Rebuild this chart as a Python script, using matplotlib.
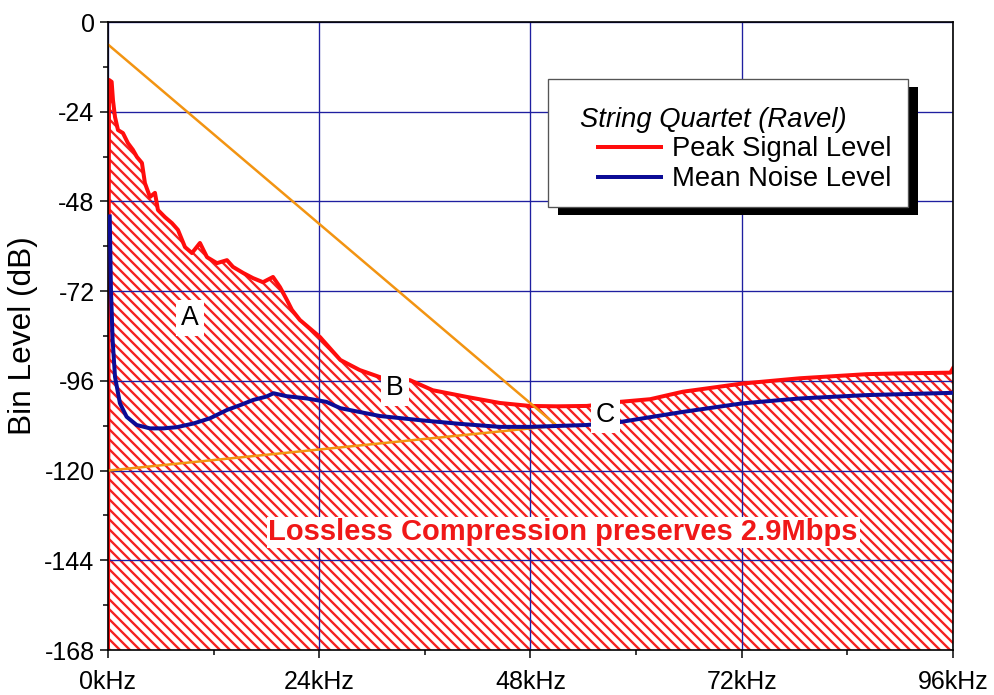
# Spectrum of a string quartet recording: peak signal vs mean noise level
import matplotlib.pyplot as plt
from matplotlib.patches import Rectangle

plt.rcParams["font.family"] = ["Liberation Sans", "DejaVu Sans"]
plt.rcParams["hatch.linewidth"] = 1.4
plt.rcParams["axes.unicode_minus"] = False

# values (kHz, dB)
peak_khz = [0.0, 0.12, 0.42, 0.57, 0.80, 1.14, 1.70, 2.27, 2.84, 3.29, 3.86,
            4.20, 4.77, 5.34, 5.68, 6.48, 7.27, 7.95, 8.75, 9.54, 10.45, 11.25,
            12.38, 13.52, 14.20, 15.34, 16.47, 17.61, 18.75, 19.54, 20.34,
            20.90, 21.8, 22.9, 24.1, 26.4, 28.6, 30.9, 32.5, 34.3, 36.9, 40.8,
            44.5, 47.9, 51.0, 54.4, 56.0, 58.2, 61.6, 65.3, 72.1, 78.6, 86.2,
            90.0, 95.7, 96.0]
peak_db = [-168, -15.5, -16.0, -20.9, -25.4, -28.9, -29.7, -32.4, -34.2,
           -36.1, -37.7, -43.1, -46.8, -45.7, -50.3, -52.2, -53.8, -55.6,
           -60.2, -61.8, -59.1, -62.9, -64.5, -63.7, -65.5, -67.1, -68.5,
           -69.6, -68.2, -70.9, -74.4, -77.0, -79.7, -81.9, -84.3, -90.4,
           -93.1, -95.0, -95.5, -95.8, -98.5, -100.3, -101.9, -102.7, -102.8,
           -102.7, -102.3, -101.6, -100.9, -98.9, -96.7, -95.3, -94.2, -94.0,
           -93.8, -92.6]

noise_khz = [0.2, 0.34, 0.53, 0.80, 1.36, 2.12, 3.26, 4.77, 6.28, 7.80, 9.70,
             11.6, 13.5, 15.0, 16.5, 18.0, 18.8, 20.3, 22.6, 24.8, 26.4, 30.9,
             35.4, 40.0, 44.5, 47.9, 54.4, 58.2, 65.3, 72.1, 78.6, 86.2, 95.9]
noise_db = [-52.0, -71.7, -85.0, -94.9, -102.0, -105.6, -107.8, -108.7,
            -108.7, -108.4, -107.4, -106.0, -103.8, -102.5, -101.1, -100.2,
            -99.3, -100.1, -100.7, -101.6, -103.3, -105.4, -106.5, -107.5,
            -108.3, -108.3, -107.8, -107.0, -104.3, -102.0, -100.7, -99.8,
            -99.2]

# orange guide lines
upper_khz = [0, 51]
upper_db = [-6, -108]
lower_khz = [0, 51]
lower_db = [-120, -108]

labels = ["A", "B", "C"]
label_khz = [9.3, 32.6, 56.5]
label_db = [-79.2, -97.9, -105.1]

xticks = [0, 24, 48, 72, 96]
xtick_labels = ["0kHz", "24kHz", "48kHz", "72kHz", "96kHz"]
yticks = [0, -24, -48, -72, -96, -120, -144, -168]

fig = plt.figure(figsize=(995 / 120, 695 / 120), dpi=120)
ax = fig.add_axes([0.1085, 0.0647, 0.8493, 0.9036])

ax.fill_between(peak_khz, peak_db, -168, facecolor="white",
                edgecolor="#f52020", hatch="\\\\\\\\", linewidth=0)
ax.plot(peak_khz, peak_db, color="#ff0d0d", lw=2.4, zorder=2,
        label="Peak Signal Level")
ax.plot(upper_khz, upper_db, color="#f29412", lw=1.5, zorder=2.5)
ax.plot(lower_khz, lower_db, color="#f29412", lw=1.5, zorder=2.5)
ax.plot(noise_khz, noise_db, color="#0c0c96", lw=2.4, zorder=3,
        label="Mean Noise Level")

for lab, x, y in zip(labels, label_khz, label_db):
    ax.text(x, y, lab, fontsize=16, ha="center", va="center", zorder=4,
            bbox=dict(facecolor="white", edgecolor="none", pad=3))

ax.text(51.7, -136.5, "Lossless Compression preserves 2.9Mbps",
        color="#f01818", fontsize=17.5, fontweight="bold", ha="center",
        va="center", zorder=4,
        bbox=dict(facecolor="white", edgecolor="none", pad=1))

ax.set_xlim(0, 96)
ax.set_ylim(-168, 0)
ax.set_xticks(xticks)
ax.set_xticklabels(xtick_labels)
ax.set_yticks(yticks)
ax.set_xticks([12, 36, 60, 84], minor=True)
ax.set_yticks([-12, -36, -60, -84, -108, -132, -156], minor=True)
ax.tick_params(which="major", direction="out", length=5, width=0.9,
               labelsize=15, pad=3)
ax.tick_params(axis="x", which="major", pad=7)
ax.tick_params(which="minor", direction="out", length=3, width=0.9)
ax.grid(True, which="major", color="#1f1fa0", lw=0.8)
for s in ax.spines.values():
    s.set_linewidth(1.0)
ax.set_ylabel("Bin Level (dB)", fontsize=19, labelpad=4)

# legend box with a hard black shadow
ax.add_patch(Rectangle((0.521 + 0.012, 0.705 - 0.013), 0.426, 0.204,
                       transform=ax.transAxes, facecolor="black",
                       edgecolor="none", zorder=5))
ax.add_patch(Rectangle((0.521, 0.705), 0.426, 0.204, transform=ax.transAxes,
                       facecolor="white", edgecolor="#555555", lw=0.8,
                       zorder=5.1))
ax.text(0.5586, 0.844, "String Quartet (Ravel)", transform=ax.transAxes,
        fontsize=16.4, style="italic", va="center", zorder=6)
leg = ax.legend(loc="upper left", bbox_to_anchor=(0.58, 0.818),
                frameon=False, fontsize=16.4, handlelength=2.3,
                handletextpad=0.4, labelspacing=0.15, borderpad=0,
                borderaxespad=0)
leg.set_zorder(6)

fig.savefig("out.png", dpi=120)
